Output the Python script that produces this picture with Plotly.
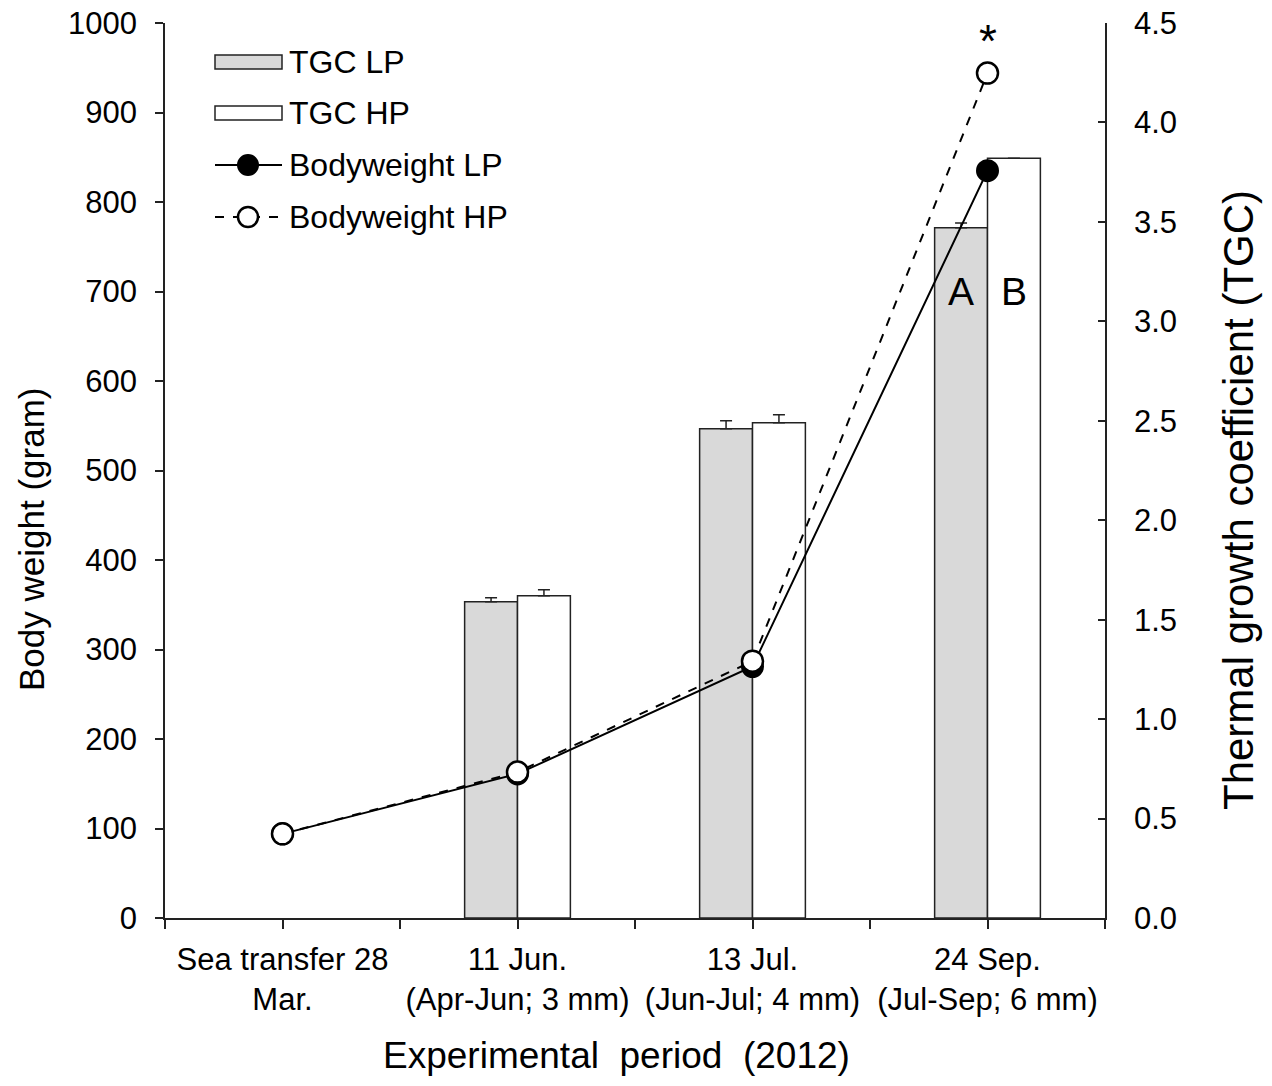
import plotly.graph_objects as go

# ---- data ----
categories = ["Sea transfer 28<br>Mar.", "11 Jun.<br>(Apr-Jun; 3 mm)",
              "13 Jul.<br>(Jun-Jul; 4 mm)", "24 Sep.<br>(Jul-Sep; 6 mm)"]
cat_pos = [0, 1, 2, 3]
bw_lp = [94, 161, 281, 835]
bw_hp = [94, 163, 287, 944]
tgc_pos = [1, 2, 3]
tgc_lp = [1.59, 2.46, 3.47]
tgc_lp_err = [0.02, 0.04, 0.025]
tgc_hp = [1.62, 2.49, 3.82]
tgc_hp_err = [0.03, 0.04, 0.0]
sig_letters_lp = ["", "", "A"]
sig_letters_hp = ["", "", "B"]

FONT = "Liberation Sans, Arial, sans-serif"
W, H = 1272, 1086
L, R, T, B = 165, 1105, 23, 918
TICK_FS = 31
LEG_FS = 32

def px(xp):
    return (xp - L) / (R - L)

def py(yp):
    return (B - yp) / (B - T)

fig = go.Figure()

bar_w = 0.225
fig.add_trace(go.Bar(
    x=tgc_pos, y=tgc_lp, width=bar_w, offset=-bar_w, name="TGC LP",
    marker=dict(color="#d9d9d9", line=dict(color="#222222", width=1.5)),
    error_y=dict(type="data", symmetric=False, array=tgc_lp_err, arrayminus=[0] * len(tgc_lp_err),
                 visible=True, color="#222222", thickness=1.5, width=6),
    yaxis="y", showlegend=False))
fig.add_trace(go.Bar(
    x=tgc_pos, y=tgc_hp, width=bar_w, offset=0, name="TGC HP",
    marker=dict(color="white", line=dict(color="#222222", width=1.5)),
    error_y=dict(type="data", symmetric=False, array=tgc_hp_err, arrayminus=[0] * len(tgc_hp_err),
                 visible=True, color="#222222", thickness=1.5, width=6),
    yaxis="y", showlegend=False))

fig.add_trace(go.Scatter(
    x=cat_pos, y=bw_lp, mode="lines+markers", name="Bodyweight LP",
    line=dict(color="black", width=2),
    marker=dict(size=21, color="black", line=dict(color="black", width=2)),
    yaxis="y2", showlegend=False))
fig.add_trace(go.Scatter(
    x=cat_pos, y=bw_hp, mode="lines+markers", name="Bodyweight HP",
    line=dict(color="black", width=2, dash="dash"),
    marker=dict(size=21, color="white", line=dict(color="black", width=2.5)),
    yaxis="y2", showlegend=False))

annotations = []
for i, p in enumerate(tgc_pos):
    if sig_letters_lp[i]:
        annotations.append(dict(x=p - bar_w / 2, y=700, xref="x", yref="y2", text=sig_letters_lp[i],
                                showarrow=False, font=dict(family=FONT, size=39, color="black")))
    if sig_letters_hp[i]:
        annotations.append(dict(x=p + bar_w / 2, y=700, xref="x", yref="y2", text=sig_letters_hp[i],
                                showarrow=False, font=dict(family=FONT, size=39, color="black")))
annotations.append(dict(x=cat_pos[3], y=bw_hp[3], xref="x", yref="y2", text="*", yshift=32,
                        showarrow=False, font=dict(family=FONT, size=46, color="black")))

# ---- axis titles (as annotations to match placement) ----
annotations.append(dict(x=px(616), y=py(1055), xref="paper", yref="paper",
                        text="Experimental  period  (2012)", showarrow=False,
                        xanchor="center", yanchor="middle",
                        font=dict(family=FONT, size=37, color="black")))
annotations.append(dict(x=px(31), y=py(540), xref="paper", yref="paper",
                        text="Body weight (gram)", showarrow=False, textangle=-90,
                        xanchor="center", yanchor="middle",
                        font=dict(family=FONT, size=35, color="black")))
annotations.append(dict(x=px(1239), y=py(500), xref="paper", yref="paper",
                        text="Thermal growth coefficient (TGC)", showarrow=False, textangle=-90,
                        xanchor="center", yanchor="middle",
                        font=dict(family=FONT, size=42, color="black")))

# ---- custom legend ----
shapes = []
leg_x0, leg_x1, leg_mid = 215, 282, 248
leg_rows = [62, 113, 165, 217]
text_x = 287
shapes.append(dict(type="rect", xref="paper", yref="paper", x0=px(leg_x0), x1=px(leg_x1),
                   y0=py(leg_rows[0] + 7), y1=py(leg_rows[0] - 7),
                   fillcolor="#d9d9d9", line=dict(color="#222222", width=1.5)))
shapes.append(dict(type="rect", xref="paper", yref="paper", x0=px(leg_x0), x1=px(leg_x1),
                   y0=py(leg_rows[1] + 7), y1=py(leg_rows[1] - 7),
                   fillcolor="white", line=dict(color="#222222", width=1.5)))
shapes.append(dict(type="line", xref="paper", yref="paper", x0=px(leg_x0), x1=px(leg_x1),
                   y0=py(leg_rows[2]), y1=py(leg_rows[2]), line=dict(color="black", width=2)))
shapes.append(dict(type="circle", xref="paper", yref="paper", x0=px(leg_mid - 10), x1=px(leg_mid + 10),
                   y0=py(leg_rows[2] + 10), y1=py(leg_rows[2] - 10),
                   fillcolor="black", line=dict(color="black", width=2)))
shapes.append(dict(type="line", xref="paper", yref="paper", x0=px(leg_x0), x1=px(leg_x1),
                   y0=py(leg_rows[3]), y1=py(leg_rows[3]), line=dict(color="black", width=2, dash="dash")))
shapes.append(dict(type="circle", xref="paper", yref="paper", x0=px(leg_mid - 10), x1=px(leg_mid + 10),
                   y0=py(leg_rows[3] + 10), y1=py(leg_rows[3] - 10),
                   fillcolor="white", line=dict(color="black", width=2.5)))
for name, row in zip(["TGC LP", "TGC HP", "Bodyweight LP", "Bodyweight HP"], leg_rows):
    annotations.append(dict(x=px(text_x), y=py(row), xref="paper", yref="paper", text=name,
                            showarrow=False, xanchor="left", yanchor="middle",
                            font=dict(family=FONT, size=LEG_FS, color="black")))

tickvals = [-0.5, 0, 0.5, 1, 1.5, 2, 2.5, 3, 3.5]
ticktext = ["", categories[0], "", categories[1], "", categories[2], "", categories[3], ""]

fig.update_layout(
    width=W, height=H,
    margin=dict(l=L, r=W - R, t=T, b=H - B, pad=0, autoexpand=False),
    paper_bgcolor="white", plot_bgcolor="white",
    font=dict(family=FONT, size=TICK_FS, color="black"),
    barmode="overlay",
    xaxis=dict(range=[-0.5, 3.5], tickmode="array", tickvals=tickvals, ticktext=ticktext,
               ticks="outside", ticklen=9, tickwidth=1.5, tickcolor="#222222",
               showline=True, linecolor="#222222", linewidth=1.5, showgrid=False, zeroline=False,
               tickfont=dict(family=FONT, size=TICK_FS), ticklabelstandoff=4, automargin=False),
    yaxis=dict(range=[0, 4.5], dtick=0.5, tickformat=".1f", side="right",
               ticks="inside", ticklen=7, tickwidth=1.5, tickcolor="#222222",
               showline=True, linecolor="#222222", linewidth=1.5, showgrid=False, zeroline=False,
               tickfont=dict(family=FONT, size=TICK_FS), ticklabelstandoff=21, automargin=False),
    yaxis2=dict(range=[0, 1000], dtick=100, side="left", overlaying="y", anchor="x",
                ticks="outside", ticklen=8, tickwidth=1.5, tickcolor="#222222",
                showline=True, linecolor="#222222", linewidth=1.5, showgrid=False, zeroline=False,
                tickfont=dict(family=FONT, size=TICK_FS), ticklabelstandoff=12, automargin=False),
    annotations=annotations,
    shapes=shapes,
    showlegend=False,
)

fig.write_html("out.html")
